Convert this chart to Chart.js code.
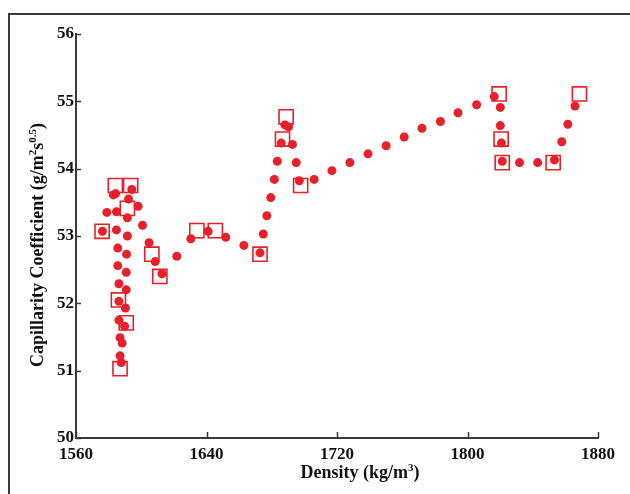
<!DOCTYPE html>
<html>
<head>
<meta charset="utf-8">
<script src="https://cdn.jsdelivr.net/npm/chart.js@4.4.1/dist/chart.umd.min.js"></script>
<style>
  html, body { margin: 0; padding: 0; background: #fff; overflow: hidden; }
  #wrap { position: relative; width: 630px; height: 494px; }
  #frame { position: absolute; left: 8px; top: 13px; width: 700px; height: 600px;
           border-left: 2px solid #3a3a3a; border-top: 2px solid #3a3a3a; }
  #myChart { position: absolute; left: 0; top: 0; }
</style>
</head>
<body>
<div id="wrap">
  <div id="frame"></div>
  <canvas id="myChart" width="630" height="494"></canvas>
</div>
<script>
// filled circles
const circleDensity = [1576.2, 1578.9, 1582.9, 1584.3, 1584.8, 1584.8, 1585.6, 1585.6, 1586.3, 1586.3,
  1586.3, 1587.0, 1588.3, 1587.0, 1587.8, 1589.8, 1590.3, 1590.8, 1590.8, 1591.0,
  1591.5, 1591.5, 1592.2, 1594.2, 1598.1, 1600.8, 1604.8, 1608.5, 1612.7, 1621.8,
  1630.4, 1641.0, 1651.8, 1662.9, 1672.8, 1674.8, 1677.0, 1679.4, 1681.6, 1683.4,
  1685.8, 1688.1, 1690.3, 1692.7, 1695.0, 1696.9, 1706.0, 1716.9, 1727.9, 1739.0,
  1750.1, 1761.2, 1772.1, 1783.4, 1794.2, 1805.6, 1816.4, 1820.1, 1820.1, 1820.8,
  1821.3, 1831.9, 1843.0, 1853.3, 1857.8, 1861.5, 1865.9];
const circleCoef = [53.07, 53.35, 53.61, 53.63, 53.36, 53.09, 52.82, 52.56, 52.29, 52.03,
  51.75, 51.49, 51.41, 51.22, 51.12, 51.66, 51.93, 52.20, 52.46, 52.73,
  53.00, 53.27, 53.55, 53.69, 53.44, 53.16, 52.90, 52.62, 52.44, 52.70,
  52.96, 53.07, 52.98, 52.86, 52.75, 53.03, 53.30, 53.57, 53.84, 54.11,
  54.38, 54.65, 54.62, 54.36, 54.09, 53.82, 53.84, 53.97, 54.09, 54.22,
  54.34, 54.47, 54.60, 54.70, 54.83, 54.95, 55.07, 54.91, 54.64, 54.38,
  54.11, 54.09, 54.09, 54.13, 54.40, 54.66, 54.93];

// open squares
const squareDensity = [1576.0, 1584.1, 1593.5, 1591.5, 1606.5, 1611.4, 1586.0, 1590.8, 1587.0, 1634.1,
  1645.4, 1672.8, 1688.8, 1686.6, 1697.7, 1819.4, 1820.6, 1821.3, 1852.5, 1868.6];
const squareCoef = [53.07, 53.75, 53.75, 53.41, 52.73, 52.40, 52.05, 51.71, 51.03, 53.08,
  53.08, 52.73, 54.77, 54.44, 53.75, 55.11, 54.44, 54.09, 54.09, 55.11];

const xTicks = [1560, 1640, 1720, 1800, 1880];
const yTicks = [50, 51, 52, 53, 54, 55, 56];

const red = '#e8202a';
const axisColor = '#3a3a3a';
const serif = "'Liberation Serif', 'Times New Roman', serif";

function drawRich(ctx, parts, cx, cy, angle) {
  const mainFont = 'bold 18px ' + serif;
  const supFont = 'bold 11px ' + serif;
  let total = 0;
  parts.forEach(p => {
    ctx.font = p.sup ? supFont : mainFont;
    p.w = ctx.measureText(p.t).width;
    total += p.w;
  });
  ctx.save();
  ctx.translate(cx, cy);
  ctx.rotate(angle);
  ctx.fillStyle = '#111';
  ctx.textBaseline = 'alphabetic';
  ctx.textAlign = 'left';
  let pos = -total / 2;
  parts.forEach(p => {
    ctx.font = p.sup ? supFont : mainFont;
    ctx.fillText(p.t, pos, p.sup ? -1 : 6);
    pos += p.w;
  });
  ctx.restore();
}

const decor = {
  id: 'decor',
  afterDraw(chart) {
    const { ctx, chartArea, scales } = chart;
    ctx.save();
    ctx.strokeStyle = axisColor;
    ctx.lineWidth = 1.5;
    ctx.beginPath();
    xTicks.forEach(v => {
      const px = Math.round(scales.x.getPixelForValue(v)) + 0.5;
      ctx.moveTo(px, chartArea.bottom);
      ctx.lineTo(px, chartArea.bottom - 6);
    });
    yTicks.forEach(v => {
      const py = Math.round(scales.y.getPixelForValue(v)) + 0.5;
      ctx.moveTo(chartArea.left, py);
      ctx.lineTo(chartArea.left + 5, py);
    });
    ctx.stroke();
    ctx.restore();

    drawRich(ctx, [{ t: 'Density (kg/m' }, { t: '3', sup: true }, { t: ')' }], 360, 472, 0);
    drawRich(ctx, [{ t: 'Capillarity Coefficient (g/m' }, { t: '2', sup: true }, { t: 's' },
      { t: '0.5', sup: true }, { t: ')' }], 37, 245, -Math.PI / 2);
  }
};

new Chart(document.getElementById('myChart'), {
  type: 'scatter',
  data: {
    datasets: [
      {
        label: 'circles',
        data: circleDensity.map((d, i) => ({ x: d, y: circleCoef[i] })),
        pointStyle: 'circle',
        pointRadius: 4.5,
        pointHoverRadius: 4.5,
        backgroundColor: red,
        borderColor: red,
        borderWidth: 0,
      },
      {
        label: 'squares',
        data: squareDensity.map((d, i) => ({ x: d, y: squareCoef[i] })),
        pointStyle: 'rect',
        pointRadius: 10,
        pointHoverRadius: 10,
        backgroundColor: 'rgba(255,255,255,0)',
        borderColor: red,
        borderWidth: 1.6,
      }
    ]
  },
  options: {
    responsive: false,
    animation: false,
    events: [],
    layout: { padding: { top: 34, right: 32, left: 0, bottom: 0 } },
    scales: {
      x: {
        type: 'linear',
        min: 1560,
        max: 1880,
        afterFit: s => { s.height = 56; },
        afterBuildTicks: s => { s.ticks = xTicks.map(v => ({ value: v })); },
        ticks: { color: '#111', padding: 6, autoSkip: false, maxRotation: 0,
                 callback: v => String(v),
                 font: { family: serif, size: 17, weight: 'bold' } },
        grid: { display: true, drawOnChartArea: false, drawTicks: false },
        border: { display: true, color: axisColor, width: 2 },
      },
      y: {
        type: 'linear',
        min: 50,
        max: 56,
        afterFit: s => { s.width = 76; },
        afterBuildTicks: s => { s.ticks = yTicks.map(v => ({ value: v })); },
        ticks: { color: '#111', padding: 2, autoSkip: false,
                 callback: v => String(v),
                 font: { family: serif, size: 17, weight: 'bold' } },
        grid: { display: true, drawOnChartArea: false, drawTicks: false },
        border: { display: true, color: axisColor, width: 2 },
      }
    },
    plugins: {
      legend: { display: false },
      tooltip: { enabled: false }
    }
  },
  plugins: [decor]
});
</script>
</body>
</html>
